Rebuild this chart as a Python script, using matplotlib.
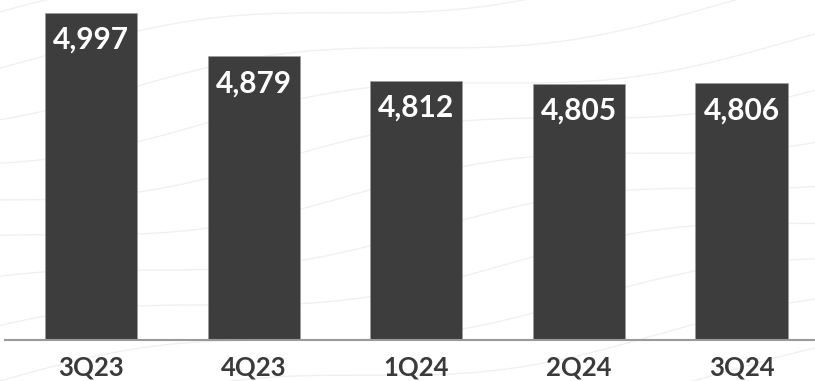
import numpy as np
import matplotlib
matplotlib.use("Agg")
import matplotlib.pyplot as plt

# Quarterly values
quarters = ["3Q23", "4Q23", "1Q24", "2Q24", "3Q24"]
values = [4997, 4879, 4812, 4805, 4806]
value_labels = ["4,997", "4,879", "4,812", "4,805", "4,806"]

BAR_COLOR = "#3c3d3c"
TEXT_COLOR = "#3a3a3a"

plt.rcParams["font.family"] = ["Lato", "DejaVu Sans"]

fig = plt.figure(figsize=(8.15, 3.81), dpi=100)
fig.patch.set_facecolor("white")

# Faint wavy texture across the background
bg = fig.add_axes([0, 0, 1, 1], zorder=0)
bg.set_xlim(0, 1)
bg.set_ylim(0, 1)
bg.axis("off")
xs = np.linspace(0, 1, 400)
for k in range(-8, 14):
    base = k * 0.12
    ys = base + 0.3 * xs + 0.035 * np.sin(2 * np.pi * (xs * 1.4 + k * 0.13))
    bg.plot(xs, ys, color="#f0f0f0", lw=1.0, zorder=0)

ax = fig.add_axes([5 / 815, 41 / 381, 810 / 815, 340 / 381], zorder=1)
ax.patch.set_alpha(0)

x = np.arange(len(quarters))
bars = ax.bar(x, values, width=0.566, color=BAR_COLOR, edgecolor="#9a9a9a",
              linewidth=0.4, zorder=2)

ax.set_ylim(4108, 5032)
ax.set_xlim(-0.529, 4.452)

for xi, v, lab in zip(x, values, value_labels):
    ax.annotate(lab, xy=(xi, v), xytext=(0, -27), textcoords="offset pixels",
                ha="center", va="center", color="white", fontsize=21.5,
                fontweight="bold", zorder=3)

for s in ["top", "right", "left"]:
    ax.spines[s].set_visible(False)
ax.spines["bottom"].set_color("#9a9a9a")
ax.spines["bottom"].set_linewidth(1.5)
ax.set_yticks([])
ax.set_xticks(x)
ax.set_xticklabels(quarters, fontsize=18.5, fontweight="bold", color=TEXT_COLOR)
ax.tick_params(axis="x", length=0, pad=11)

fig.savefig("out.png", dpi=100, facecolor="white")
